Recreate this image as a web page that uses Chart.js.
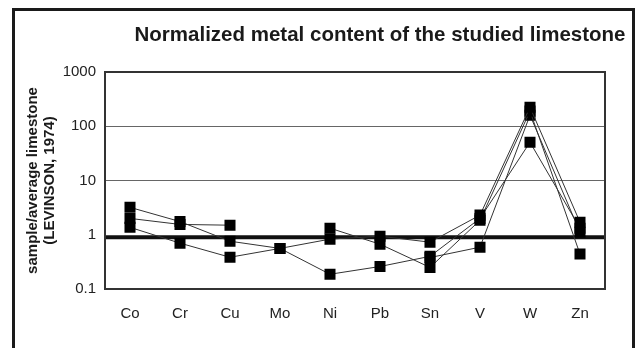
<!DOCTYPE html>
<html>
<head>
<meta charset="utf-8">
<script src="https://cdn.jsdelivr.net/npm/chart.js@4"></script>
<style>
  html, body { margin: 0; padding: 0; background: #fff; }
  #wrap { position: relative; width: 638px; height: 348px; overflow: hidden; }
  #frame { position: absolute; left: 12px; top: 8px; width: 617px; height: 400px; border: 3px solid #1a1a1a; }
  #c { position: absolute; left: 0; top: 0; }
</style>
</head>
<body>
<div id="wrap">
  <div id="frame"></div>
  <canvas id="c" width="638" height="348"></canvas>
</div>
<script>
// elements on the x axis
const metals = ['Co', 'Cr', 'Cu', 'Mo', 'Ni', 'Pb', 'Sn', 'V', 'W', 'Zn'];

// sample / average limestone (null = no value)
const sample1 = [3.2, 1.75, 0.76, 0.56, 0.83, 0.94, 0.73, 2.3, 224, 1.7];
const sample2 = [2.0, 1.55, 1.5, null, 1.32, 0.67, 0.25, 1.85, 190, 0.44];
const sample3 = [1.37, 0.70, 0.385, 0.56, 0.187, 0.26, 0.40, 2.0, 50.7, 1.32];
const sample4 = [null, null, null, null, null, null, 0.38, 0.59, 160, 1.11];

const yTicks = [0.1, 1, 10, 100, 1000];
const refLine = 0.9;

const FONT = "'Liberation Sans', Arial, sans-serif";

function series(vals) {
  return {
    data: vals,
    borderColor: '#333',
    borderWidth: 1,
    pointStyle: 'rect',
    pointRadius: 7.8,
    pointBackgroundColor: '#000',
    pointBorderColor: '#000',
    pointBorderWidth: 0,
    spanGaps: false,
    tension: 0
  };
}

// frame, reference line and title
const decor = {
  id: 'decor',
  beforeDatasetsDraw(chart) {
    const { ctx, chartArea: { left, right }, scales: { y } } = chart;
    ctx.save();
    const yy = y.getPixelForValue(refLine);
    ctx.strokeStyle = '#111';
    ctx.lineWidth = 4;
    ctx.beginPath();
    ctx.moveTo(left, yy);
    ctx.lineTo(right, yy);
    ctx.stroke();
    ctx.restore();
  },
  afterDraw(chart) {
    const { ctx, chartArea: { left, right, top, bottom } } = chart;
    ctx.save();
    ctx.strokeStyle = '#333';
    ctx.lineWidth = 2;
    ctx.strokeRect(left, top, right - left, bottom - top);

    ctx.fillStyle = '#1a1a1a';
    ctx.font = 'bold 20.5px ' + FONT;
    ctx.textAlign = 'center';
    ctx.textBaseline = 'middle';
    ctx.fillText('Normalized metal content of the studied limestone', 380, 35);
    ctx.restore();
  }
};

new Chart(document.getElementById('c'), {
  type: 'line',
  data: {
    labels: metals,
    datasets: [series(sample1), series(sample2), series(sample3), series(sample4)]
  },
  options: {
    responsive: false,
    animation: false,
    layout: { padding: { left: 24, right: 33, top: 72, bottom: 0 } },
    plugins: { legend: { display: false }, tooltip: { enabled: false } },
    scales: {
      x: {
        type: 'category',
        offset: true,
        grid: { display: false, drawTicks: false },
        border: { display: false },
        ticks: { color: '#222', font: { family: FONT, size: 15 }, padding: 16, maxRotation: 0 },
        afterFit(s) { s.height = 59; }
      },
      y: {
        type: 'logarithmic',
        min: 0.1,
        max: 1000,
        afterBuildTicks(s) { s.ticks = yTicks.map(v => ({ value: v })); },
        grid: {
          drawTicks: false,
          color: c => (c.tick && (c.tick.value === 10 || c.tick.value === 100)) ? '#666' : 'rgba(0,0,0,0)',
          lineWidth: 1
        },
        border: { display: false },
        ticks: {
          color: '#222',
          font: { family: FONT, size: 15 },
          padding: 9,
          callback: v => String(v)
        },
        title: {
          display: true,
          text: ['sample/average limestone', '(LEVINSON, 1974)'],
          color: '#1a1a1a',
          font: { family: FONT, size: 15, weight: 'bold', lineHeight: 1.15 },
          padding: { top: 0, bottom: 0 }
        },
        afterFit(s) { s.width = 81; }
      }
    }
  },
  plugins: [decor]
});
</script>
</body>
</html>
